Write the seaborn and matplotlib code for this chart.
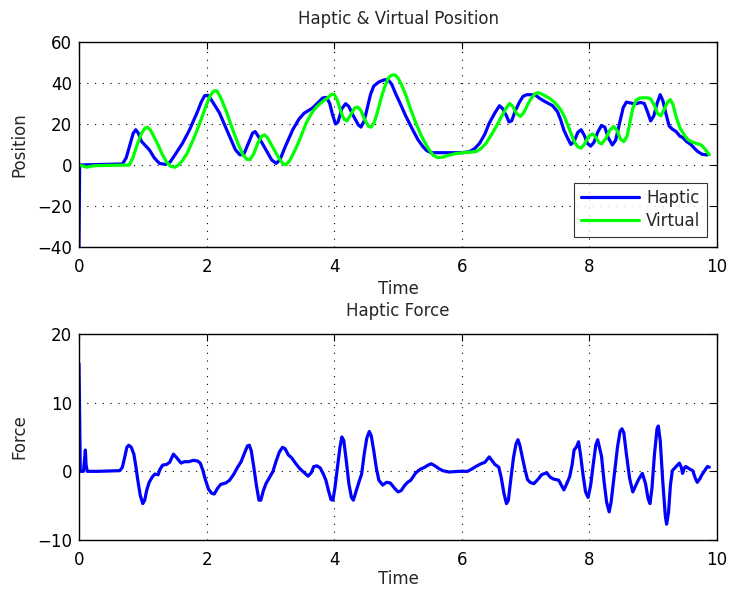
import matplotlib
matplotlib.use("Agg")
import matplotlib.pyplot as plt
import seaborn as sns
import pandas as pd

# Haptic device position: (time [s], position)
haptic_samples = [
    (0, -40), (0.01, 0), (0.3, 0.2), (0.68, 0.5), (0.74, 3.5), (0.8, 10), (0.85, 15.5),
    (0.89, 17.2), (0.93, 15.5), (0.98, 11.5), (1.03, 9.8), (1.1, 7.5), (1.18, 3.5),
    (1.26, 0.8), (1.35, 0.3), (1.43, 1.5), (1.52, 5.7), (1.62, 10.5), (1.73, 17),
    (1.85, 25.5), (1.92, 31), (1.97, 33.8), (2.02, 34), (2.08, 31.5), (2.2, 25.5),
    (2.36, 13.9), (2.45, 7.5), (2.52, 5), (2.58, 5), (2.66, 11), (2.72, 15.5),
    (2.76, 16.3), (2.8, 14.5), (2.93, 7.4), (3.02, 2.5), (3.09, 0.8), (3.15, 2.5),
    (3.22, 8), (3.35, 17.2), (3.45, 22.5), (3.53, 25.3), (3.66, 27.8), (3.75, 30.5),
    (3.82, 32.7), (3.88, 33), (3.93, 30), (3.97, 25), (4.02, 20), (4.06, 21),
    (4.12, 27.5), (4.18, 29.9), (4.23, 28.5), (4.3, 24), (4.38, 19.5), (4.42, 18.5),
    (4.47, 21.5), (4.52, 28), (4.57, 34.5), (4.62, 38.5), (4.7, 40.5), (4.78, 41.5),
    (4.84, 41.7), (4.9, 39.5), (4.96, 35), (5.02, 31), (5.12, 24), (5.23, 17.2),
    (5.31, 12.5), (5.39, 9), (5.45, 7), (5.52, 6), (5.7, 6), (6.0, 6), (6.12, 6.5),
    (6.2, 8), (6.28, 10.6), (6.36, 15), (6.43, 20.4), (6.52, 25.5), (6.59, 28.9),
    (6.64, 27.5), (6.7, 24), (6.74, 21), (6.78, 21.5), (6.84, 26.5), (6.9, 30.5),
    (6.96, 33.5), (7.02, 34.3), (7.1, 34.3), (7.16, 34), (7.22, 32.5), (7.3, 31),
    (7.42, 29), (7.5, 26), (7.55, 22), (7.6, 17), (7.66, 13), (7.71, 10),
    (7.76, 11.5), (7.82, 16), (7.87, 17.2), (7.92, 14.5), (7.97, 10.5), (8.02, 9.2),
    (8.07, 11), (8.13, 16), (8.19, 19.3), (8.24, 18.5), (8.3, 13), (8.36, 9.8),
    (8.41, 12), (8.47, 20), (8.53, 28), (8.58, 30.7), (8.65, 30.2), (8.72, 29.8),
    (8.8, 30.5), (8.86, 30), (8.91, 26), (8.96, 21.5), (9.01, 24), (9.06, 30),
    (9.11, 34.3), (9.15, 31.5), (9.2, 25), (9.25, 19), (9.3, 17.5), (9.36, 16.3),
    (9.42, 14), (9.46, 13.5), (9.52, 11.5), (9.59, 10), (9.65, 8), (9.7, 6.5),
    (9.77, 5.2), (9.85, 4.9),
]

# Virtual object position: (time [s], position)
virtual_samples = [
    (0, 0), (0.06, -0.5), (0.12, -1.1), (0.2, -0.5), (0.29, -0.3), (0.79, 0), (0.85, 4),
    (0.92, 10.6), (0.98, 15.5), (1.03, 17.8), (1.07, 18.5), (1.12, 17), (1.18, 13.5),
    (1.24, 9.8), (1.3, 5.5), (1.37, 1.6), (1.43, -0.5), (1.5, -1.1), (1.56, 0),
    (1.63, 2.5), (1.7, 6), (1.79, 12.3), (1.87, 18.5), (1.94, 24.5), (2.0, 29.5),
    (2.06, 34), (2.12, 36.2), (2.16, 36.2), (2.22, 33), (2.31, 26.1), (2.4, 18),
    (2.49, 10.6), (2.57, 5), (2.63, 2.8), (2.68, 2.6), (2.74, 5.5), (2.8, 10.5),
    (2.86, 14), (2.91, 14.7), (2.96, 13), (3.05, 8), (3.13, 3.5), (3.2, 0.5),
    (3.25, 0.2), (3.31, 2.5), (3.4, 8.2), (3.48, 14), (3.56, 20.4), (3.64, 25),
    (3.72, 28.3), (3.82, 31), (3.9, 32.8), (3.96, 34.5), (4.0, 34.5), (4.05, 31.5),
    (4.1, 26.5), (4.15, 22.5), (4.2, 21.5), (4.26, 24.5), (4.32, 27.8), (4.37, 28.3),
    (4.42, 26.5), (4.48, 22), (4.54, 18.8), (4.58, 18.5), (4.63, 21), (4.68, 26),
    (4.73, 32), (4.79, 38), (4.85, 42.5), (4.9, 43.8), (4.95, 44), (5.0, 42.5),
    (5.05, 39.5), (5.13, 33.5), (5.2, 27), (5.28, 20.4), (5.37, 14), (5.47, 8.2),
    (5.55, 4.8), (5.62, 3.6), (5.7, 3.8), (5.8, 4.8), (5.91, 5.6), (6.05, 6.1),
    (6.22, 6.5), (6.3, 8), (6.38, 10.6), (6.46, 14.5), (6.54, 18.8), (6.62, 23.5),
    (6.7, 28), (6.75, 30), (6.8, 28.5), (6.86, 25), (6.92, 23.7), (6.98, 26),
    (7.04, 30), (7.1, 33), (7.15, 34.8), (7.2, 35.3), (7.26, 34.5), (7.32, 33.5),
    (7.4, 32), (7.47, 30), (7.55, 27), (7.61, 23.5), (7.66, 19.5), (7.71, 15.5),
    (7.77, 11), (7.82, 8.8), (7.87, 8.2), (7.93, 10.5), (7.99, 14), (8.05, 15.2),
    (8.1, 13.5), (8.15, 11), (8.19, 10.3), (8.25, 12.5), (8.32, 17), (8.38, 18.8),
    (8.43, 17), (8.49, 12.5), (8.54, 11.4), (8.59, 14), (8.63, 20), (8.68, 27.5),
    (8.73, 31.5), (8.79, 32.7), (8.9, 32.8), (8.96, 32.3), (9.02, 29), (9.07, 25),
    (9.12, 24), (9.17, 27), (9.22, 30.5), (9.27, 31.9), (9.31, 29.5), (9.36, 23.5),
    (9.42, 18), (9.48, 15), (9.54, 12.5), (9.6, 11.3), (9.68, 10.5), (9.75, 9.8),
    (9.8, 8.2), (9.88, 5),
]

# Force fed back to the haptic device: (time [s], force)
force_samples = [
    (0, 15.7), (0.02, 0), (0.07, 0), (0.09, 2), (0.1, 3.1), (0.11, 1), (0.13, 0),
    (0.3, 0), (0.64, 0.1), (0.68, 0.6), (0.72, 2.2), (0.75, 3.5), (0.78, 3.8),
    (0.82, 3.5), (0.86, 2.5), (0.89, 0.8), (0.92, -1.2), (0.96, -3.5), (1.0, -4.7),
    (1.03, -4.2), (1.06, -2.8), (1.1, -1.6), (1.15, -0.8), (1.19, -0.4), (1.24, -0.5),
    (1.27, 0.3), (1.31, 0.9), (1.37, 1.0), (1.42, 1.3), (1.48, 2.5), (1.53, 2.0),
    (1.6, 1.2), (1.65, 1.4), (1.72, 1.4), (1.79, 1.6), (1.86, 1.5), (1.9, 1.2),
    (1.94, 0.2), (1.98, -1.2), (2.03, -2.6), (2.08, -3.2), (2.12, -3.3), (2.17, -2.5),
    (2.22, -1.9), (2.3, -1.7), (2.36, -1.3), (2.42, -0.5), (2.48, 0.5), (2.54, 1.4),
    (2.6, 2.8), (2.64, 3.7), (2.67, 3.8), (2.7, 3), (2.74, 0.6), (2.78, -2),
    (2.82, -4.2), (2.85, -4.2), (2.89, -2.8), (2.93, -1.8), (2.98, -1), (3.04, 0),
    (3.09, 1.5), (3.14, 2.8), (3.19, 3.5), (3.23, 3.3), (3.28, 2.4), (3.33, 2.0),
    (3.4, 1.1), (3.46, 0.4), (3.53, -0.2), (3.59, -0.7), (3.64, -0.2), (3.68, 0.7),
    (3.73, 0.8), (3.78, 0.5), (3.83, -0.4), (3.87, -1.3), (3.91, -2.8), (3.95, -4.1),
    (3.98, -4.2), (4.01, -2.5), (4.05, 0.5), (4.09, 3.5), (4.12, 5.0), (4.15, 4.5),
    (4.19, 1.5), (4.23, -1.8), (4.27, -3.8), (4.3, -4.2), (4.34, -3), (4.39, -1.5),
    (4.43, -0.4), (4.47, 2.5), (4.51, 4.8), (4.55, 5.8), (4.58, 5.2), (4.62, 3),
    (4.66, 0.5), (4.7, -1.3), (4.76, -2.0), (4.82, -1.6), (4.88, -1.7), (4.94, -2.4),
    (5.0, -3.0), (5.05, -2.8), (5.1, -2.1), (5.15, -1.6), (5.2, -1.3), (5.28, -0.2),
    (5.35, 0.3), (5.42, 0.6), (5.47, 0.9), (5.52, 1.1), (5.58, 0.8), (5.64, 0.4),
    (5.7, 0.1), (5.8, -0.1), (5.95, 0), (6.09, 0), (6.15, 0.3), (6.22, 0.7),
    (6.3, 1.1), (6.36, 1.3), (6.43, 2.1), (6.47, 1.6), (6.52, 1.0), (6.58, 0.6),
    (6.62, -1.0), (6.66, -3.2), (6.7, -4.7), (6.73, -4.2), (6.77, -1.0), (6.81, 2.0),
    (6.85, 4.0), (6.88, 4.6), (6.91, 3.8), (6.95, 2.0), (6.99, 0.3), (7.03, -1.2),
    (7.07, -1.6), (7.13, -1.8), (7.2, -1.1), (7.25, -0.5), (7.33, -0.2), (7.38, -0.8),
    (7.43, -1.1), (7.52, -1.3), (7.57, -2.2), (7.6, -2.7), (7.64, -1.9), (7.69, -0.8),
    (7.73, 1.0), (7.76, 3.1), (7.8, 3.6), (7.83, 4.3), (7.86, 2.5), (7.9, -0.5),
    (7.94, -3.0), (7.98, -3.8), (8.02, -2), (8.06, 1.0), (8.1, 3.8), (8.13, 4.6),
    (8.16, 3.4), (8.19, 2.2), (8.23, -1.5), (8.27, -4.5), (8.31, -5.9), (8.34, -4.5),
    (8.39, -0.5), (8.44, 3.5), (8.48, 5.8), (8.51, 6.2), (8.54, 5.6), (8.58, 2.5),
    (8.63, -1.0), (8.68, -3.0), (8.72, -2.2), (8.77, -1.2), (8.83, -0.3), (8.88, -1.8),
    (8.92, -4), (8.95, -4.7), (8.98, -2.5), (9.02, 2.5), (9.06, 6.2), (9.08, 6.6),
    (9.11, 4.5), (9.15, -1.5), (9.19, -6.5), (9.21, -7.7), (9.24, -6), (9.27, -2),
    (9.3, 0.1), (9.35, 0.6), (9.41, 1.2), (9.44, 0.6), (9.46, -0.3), (9.49, 0.5),
    (9.51, 0.7), (9.56, 0.4), (9.62, 0.1), (9.66, -1.0), (9.69, -1.6), (9.73, -1.1),
    (9.77, -0.4), (9.82, 0.3), (9.85, 0.7), (9.88, 0.6),
]

x_ticks = [0, 2, 4, 6, 8, 10]
pos_ticks = [-40, -20, 0, 20, 40, 60]
force_ticks = [-10, 0, 10, 20]

BLUE = "#0000ff"
GREEN = "#00ff00"

sns.set_style("white")
plt.rcParams["font.family"] = ["DejaVu Sans"]
plt.rcParams["font.size"] = 12

fig = plt.figure(figsize=(7.31, 5.92), dpi=100)
ax1 = fig.add_axes([79 / 731, 1 - 247 / 592, 638 / 731, 205 / 592])
ax2 = fig.add_axes([79 / 731, 1 - 540 / 592, 638 / 731, 206 / 592])

pos_h = pd.DataFrame(haptic_samples, columns=["Time", "Position"])
pos_v = pd.DataFrame(virtual_samples, columns=["Time", "Position"])
frc = pd.DataFrame(force_samples, columns=["Time", "Force"])

sns.lineplot(data=pos_h, x="Time", y="Position", ax=ax1, color=BLUE, lw=2.3,
             sort=False, estimator=None, label="Haptic")
sns.lineplot(data=pos_v, x="Time", y="Position", ax=ax1, color=GREEN, lw=2.3,
             sort=False, estimator=None, label="Virtual")
sns.lineplot(data=frc, x="Time", y="Force", ax=ax2, color=BLUE, lw=2.3,
             sort=False, estimator=None)


def style(ax, yticks, title, xlabelpad):
    ax.set_xlim(0, 10)
    ax.set_ylim(yticks[0], yticks[-1])
    ax.set_xticks(x_ticks)
    ax.set_yticks(yticks)
    ax.grid(True, color="black", linestyle=(0, (1, 6)), linewidth=0.8)
    ax.tick_params(direction="in", length=5, width=0.8, top=True, right=True,
                   labelsize=12, colors="black")
    ax.tick_params(axis="x", pad=8)
    ax.tick_params(axis="y", pad=5)
    for s in ax.spines.values():
        s.set_color("black")
        s.set_linewidth(1.0)
    ax.set_title(title, fontsize=12, pad=13)
    ax.set_xlabel("Time", fontsize=12, labelpad=xlabelpad)


style(ax1, pos_ticks, "Haptic & Virtual Position", 2.5)
style(ax2, force_ticks, "Haptic Force", 1)
ax1.set_ylabel("Position", fontsize=12, labelpad=6)
ax2.set_ylabel("Force", fontsize=12, labelpad=6)

leg = ax1.legend(loc="lower right", fontsize=12, frameon=True, fancybox=False,
                 handlelength=3.5, borderaxespad=0.6, borderpad=0.4,
                 labelspacing=0.3, handletextpad=0.4)
leg.get_frame().set_edgecolor("black")
leg.get_frame().set_linewidth(0.8)

fig.savefig("out.png", dpi=100)
